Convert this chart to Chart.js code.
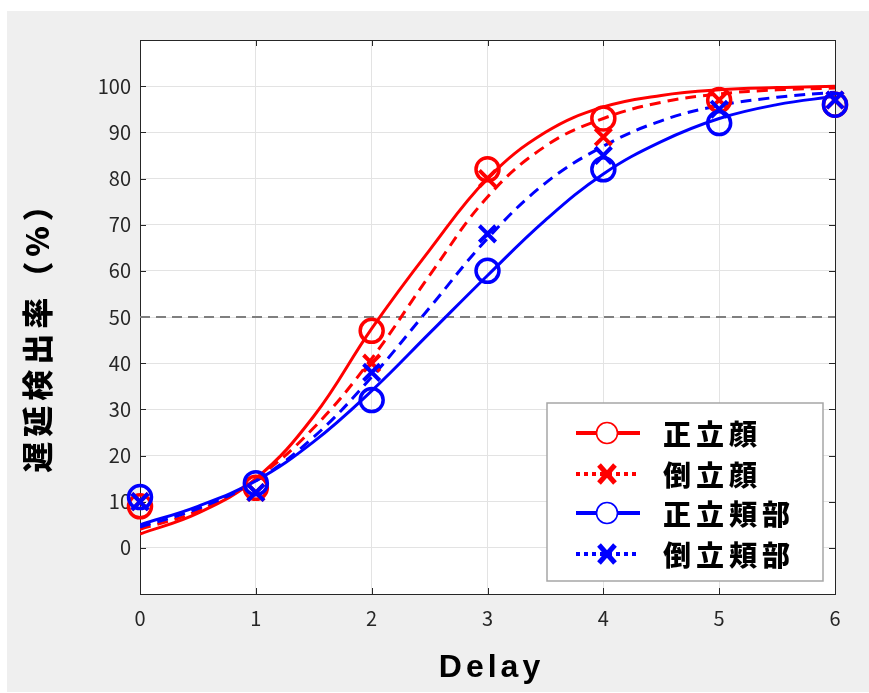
<!DOCTYPE html>
<html>
<head>
<meta charset="utf-8">
<script src="https://cdn.jsdelivr.net/npm/chart.js@4"></script>
<style>
  html, body { margin: 0; padding: 0; background: #ffffff; }
  #wrap { position: absolute; left: 0; top: 0; width: 869px; height: 693px; }
</style>
</head>
<body>
<div id="wrap"><canvas id="myChart" width="869" height="693"></canvas></div>
<script>
// measured points
const delays = [0, 1, 2, 3, 4, 5, 6];
const uprightFace = [9, 13, 47, 82, 93, 97, 96];
const invertedFace = [10, 12, 40, 80, 89, 97, 97];
const uprightCheek = [11, 14, 32, 60, 82, 92, 96];
const invertedCheek = [10, 12, 38, 68, 85, 95, 97];

// fitted curves, every 0.5
const curveX = [0, 0.5, 1, 1.5, 2, 2.5, 3, 3.5, 4, 4.5, 5, 5.5, 6];
const fitUprightFace = [3, 7.5, 15, 28.5, 47.5, 64.5, 80, 90, 95.5, 98, 99.2, 99.7, 100];
const fitInvertedFace = [4, 8, 15, 26, 41, 59, 76, 87, 93, 96.5, 98.3, 99.2, 99.6];
const fitUprightCheek = [5, 9, 14.5, 23, 34, 46.5, 59, 71, 81, 88, 93, 96, 97.8];
const fitInvertedCheek = [4.5, 8.5, 14.5, 24, 37, 52, 67, 79, 87, 92.5, 95.8, 97.6, 98.7];

// 50% threshold
const refX = [0, 6];
const refY = [50, 50];

const yTicks = [0, 10, 20, 30, 40, 50, 60, 70, 80, 90, 100];
const xTicks = [0, 1, 2, 3, 4, 5, 6];

const legendNames = ['正立顔', '倒立顔', '正立頬部', '倒立頬部'];
const xTitle = 'Delay';
const yTitle = '遅延検出率（%）';

const RED = '#ff0000';
const BLUE = '#0000ff';

function pts(xs, ys) {
  return xs.map((x, i) => ({x: x, y: ys[i]}));
}

function curve(ys, color, dash, order) {
  return {
    data: pts(curveX, ys),
    showLine: true,
    borderColor: color,
    borderWidth: 3,
    borderDash: dash,
    pointRadius: 0,
    fill: false,
    tension: 0.4,
    order: order
  };
}

function markers(ys, color, style, width, order) {
  return {
    data: pts(delays, ys),
    showLine: false,
    clip: false,
    borderColor: color,
    backgroundColor: 'rgba(0,0,0,0)',
    pointStyle: style,
    pointRadius: 11.5,
    pointBorderWidth: width,
    order: order
  };
}

const bgPlugin = {
  id: 'bg',
  beforeDraw(chart) {
    const ctx = chart.ctx;
    const a = chart.chartArea;
    ctx.save();
    ctx.fillStyle = '#ffffff';
    ctx.fillRect(0, 0, chart.width, chart.height);
    ctx.fillStyle = '#efefef';
    ctx.fillRect(7, 11, chart.width - 7, chart.height - 12);
    ctx.fillStyle = '#ffffff';
    ctx.fillRect(a.left, a.top, a.right - a.left, a.bottom - a.top);
    ctx.restore();
  },
  beforeDatasetsDraw(chart) {
    // matlab style inner tick marks
    const ctx = chart.ctx;
    const a = chart.chartArea;
    const xs = chart.scales.x, ys = chart.scales.y;
    ctx.save();
    ctx.strokeStyle = '#262626';
    ctx.lineWidth = 1;
    ctx.beginPath();
    yTicks.forEach(v => {
      const y = Math.round(ys.getPixelForValue(v)) + 0.5;
      ctx.moveTo(a.left, y); ctx.lineTo(a.left + 6, y);
      ctx.moveTo(a.right, y); ctx.lineTo(a.right - 6, y);
    });
    xTicks.forEach(v => {
      const x = Math.round(xs.getPixelForValue(v)) + 0.5;
      ctx.moveTo(x, a.bottom); ctx.lineTo(x, a.bottom - 6);
      ctx.moveTo(x, a.top); ctx.lineTo(x, a.top + 6);
    });
    ctx.stroke();
    ctx.strokeStyle = '#262626';
    ctx.strokeRect(a.left + 0.5, a.top + 0.5, a.right - a.left, a.bottom - a.top);
    ctx.restore();
  },
  afterDraw(chart) {
    const ctx = chart.ctx;
    const a = chart.chartArea;
    ctx.save();
    // axis titles
    ctx.fillStyle = '#000000';
    ctx.textAlign = 'center';
    ctx.textBaseline = 'middle';
    ctx.font = 'bold 32px "Liberation Sans", Arial, sans-serif';
    ctx.letterSpacing = '4px';
    ctx.fillText(xTitle, (a.left + a.right) / 2 + 4, 668);
    ctx.translate(37, 329);
    ctx.rotate(-Math.PI / 2);
    ctx.font = '900 31px "Noto Sans CJK JP", sans-serif';
    ctx.letterSpacing = '5px';
    ctx.fillText(yTitle, 0, 0);
    ctx.restore();

    // legend box
    ctx.save();
    const bx = 547, by = 403, bw = 276, bh = 178;
    ctx.fillStyle = '#ffffff';
    ctx.fillRect(bx, by, bw, bh);
    ctx.strokeStyle = '#a6a6a6';
    ctx.lineWidth = 1.5;
    ctx.strokeRect(bx, by, bw, bh);
    const rows = [433, 474, 513, 554];
    const colors = [RED, RED, BLUE, BLUE];
    legendNames.forEach((name, i) => {
      const y = rows[i];
      const c = colors[i];
      ctx.strokeStyle = c;
      ctx.fillStyle = c;
      ctx.lineWidth = 4;
      if (i % 2 === 0) {
        ctx.setLineDash([]);
        ctx.beginPath();
        ctx.moveTo(576, y); ctx.lineTo(640, y);
        ctx.stroke();
        ctx.fillStyle = '#ffffff';
        ctx.beginPath();
        ctx.arc(607, y, 10.5, 0, Math.PI * 2);
        ctx.fill();
        ctx.lineWidth = 1.6;
        ctx.beginPath();
        ctx.arc(607, y, 10.5, 0, Math.PI * 2);
        ctx.stroke();
      } else {
        ctx.setLineDash([4, 4]);
        ctx.beginPath();
        ctx.moveTo(576, y); ctx.lineTo(640, y);
        ctx.stroke();
        ctx.setLineDash([]);
        ctx.lineWidth = 5;
        ctx.beginPath();
        ctx.moveTo(599, y - 9); ctx.lineTo(615, y + 9);
        ctx.moveTo(615, y - 9); ctx.lineTo(599, y + 9);
        ctx.stroke();
      }
      ctx.fillStyle = '#000000';
      ctx.font = '900 28px "Noto Sans CJK JP", sans-serif';
      ctx.letterSpacing = '5px';
      ctx.textAlign = 'left';
      ctx.textBaseline = 'middle';
      ctx.fillText(name, 663, y + 1);
    });
    ctx.restore();
  }
};

const ctx = document.getElementById('myChart');
new Chart(ctx, {
  type: 'scatter',
  data: {
    datasets: [
      {
        data: pts(refX, refY),
        showLine: true,
        borderColor: '#7f7f7f',
        borderWidth: 2,
        borderDash: [10, 6],
        pointRadius: 0,
        order: 20
      },
      curve(fitUprightFace, RED, [], 12),
      curve(fitInvertedFace, RED, [11, 7], 11),
      curve(fitUprightCheek, BLUE, [], 10),
      curve(fitInvertedCheek, BLUE, [11, 7], 9),
      markers(uprightFace, RED, 'circle', 3.5, 8),
      markers(invertedFace, RED, 'crossRot', 4, 7),
      markers(uprightCheek, BLUE, 'circle', 3.5, 6),
      markers(invertedCheek, BLUE, 'crossRot', 4, 5)
    ]
  },
  options: {
    responsive: false,
    animation: false,
    layout: { padding: { left: 0, top: 40, right: 34, bottom: 0 } },
    plugins: {
      legend: { display: false },
      tooltip: { enabled: false }
    },
    scales: {
      x: {
        type: 'linear',
        min: 0,
        max: 6,
        afterFit(scale) { scale.height = 99; },
        afterBuildTicks(scale) { scale.ticks = xTicks.map(v => ({value: v})); },
        grid: { color: '#e3e3e3', lineWidth: 1, drawTicks: false },
        border: { display: false },
        ticks: {
          color: '#262626',
          padding: 12,
          font: { family: '"Noto Sans CJK JP", sans-serif', size: 20 }
        }
      },
      y: {
        type: 'linear',
        min: -10,
        max: 110,
        afterFit(scale) { scale.width = 140; },
        afterBuildTicks(scale) { scale.ticks = yTicks.map(v => ({value: v})); },
        grid: { color: '#e3e3e3', lineWidth: 1, drawTicks: false },
        border: { display: false },
        ticks: {
          color: '#262626',
          padding: 9,
          font: { family: '"Noto Sans CJK JP", sans-serif', size: 20 }
        }
      }
    }
  },
  plugins: [bgPlugin]
});
</script>
</body>
</html>
